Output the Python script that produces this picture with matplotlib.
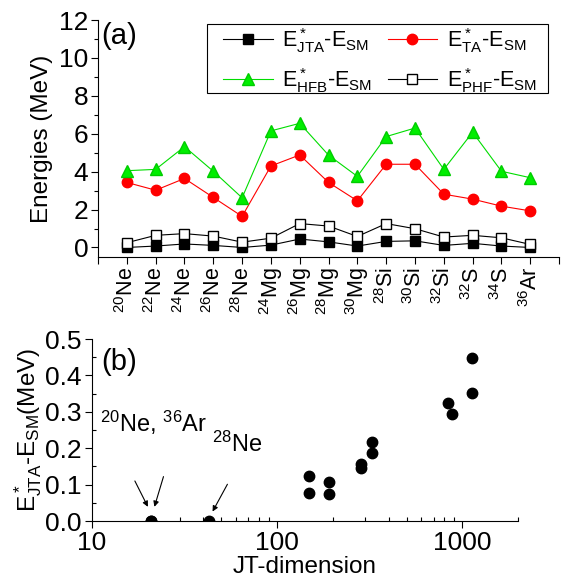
import matplotlib
matplotlib.use('Agg')
from matplotlib import pyplot as plt
from matplotlib.patches import Rectangle
import numpy as np

plt.rcParams['font.family'] = ['Liberation Sans', 'DejaVu Sans']
plt.rcParams['mathtext.fontset'] = 'custom'
plt.rcParams['mathtext.rm'] = 'Liberation Sans'
plt.rcParams['mathtext.it'] = 'Liberation Sans:italic'
plt.rcParams['mathtext.bf'] = 'Liberation Sans:bold'

# panel (a) data
nuclei = [r'$^{20}$Ne', r'$^{22}$Ne', r'$^{24}$Ne', r'$^{26}$Ne', r'$^{28}$Ne',
          r'$^{24}$Mg', r'$^{26}$Mg', r'$^{28}$Mg', r'$^{30}$Mg',
          r'$^{28}$Si', r'$^{30}$Si', r'$^{32}$Si', r'$^{32}$S', r'$^{34}$S',
          r'$^{36}$Ar']
e_jta = [0.0, 0.075, 0.185, 0.108, 0.0, 0.123, 0.445, 0.295, 0.075,
         0.32, 0.35, 0.108, 0.218, 0.075, 0.0]
e_ta = [3.43, 3.02, 3.64, 2.64, 1.64, 4.30, 4.88, 3.43, 2.46,
        4.39, 4.39, 2.81, 2.55, 2.18, 1.93]
e_hfb = [4.05, 4.12, 5.32, 4.02, 2.62, 6.15, 6.55, 4.87, 3.75,
         5.85, 6.3, 4.12, 6.08, 4.02, 3.68]
e_phf = [0.25, 0.64, 0.73, 0.60, 0.28, 0.49, 1.26, 1.13, 0.58,
         1.26, 0.99, 0.55, 0.64, 0.51, 0.16]

# panel (b) data
jt_dim = [20.9, 20.9, 42.7, 148, 148, 190, 190, 285, 285,
          326, 326, 840, 875, 1122, 1122]
jt_err = [0.0, 0.0, 0.0, 0.123, 0.076, 0.106, 0.074, 0.157, 0.147,
          0.218, 0.186, 0.323, 0.295, 0.447, 0.353]

fs = 19
fig = plt.figure(figsize=(5.65, 5.80), dpi=100)

# ---- panel (a)
ax1 = fig.add_axes([0.1735, 0.557, 0.816, 0.4085])
xs = np.arange(1, len(nuclei) + 1)
l_jta, = ax1.plot(xs, e_jta, '-', color='black', lw=0.8, marker='s', ms=6.7,
                  mfc='black', mec='black', zorder=3)
l_ta, = ax1.plot(xs, e_ta, '-', color='red', lw=0.8, marker='o', ms=7.5,
                 mfc='red', mec='red', zorder=3)
l_hfb, = ax1.plot(xs, e_hfb, '-', color='#00dd00', lw=0.8, marker='^', ms=8.5,
                  mfc='#00ee00', mec='#00cc00', zorder=3)
l_phf, = ax1.plot(xs, e_phf, '-', color='black', lw=0.8, marker='s', ms=6.7,
                  mfc='white', mec='black', zorder=4)
ax1.set_xlim(0, 16)
ax1.set_ylim(-0.5, 12)
ax1.set_xticks(np.arange(0, 17))
ax1.set_xticklabels([''] + nuclei + [''], rotation=90)
ax1.set_yticks(np.arange(0, 13, 2))
ax1.set_yticks(np.arange(1, 12, 2), minor=True)
ax1.tick_params(axis='both', which='major', labelsize=fs, direction='out', length=5, width=0.8, pad=2)
ax1.tick_params(axis='x', labelsize=15.5)
ax1.tick_params(axis='y', which='minor', direction='out', length=3, width=0.8)
ax1.spines['top'].set_visible(False)
ax1.spines['right'].set_visible(False)
ax1.set_ylabel('Energies (MeV)', fontsize=17.5, labelpad=4)
ax1.text(0.008, 0.99, '(a)', transform=ax1.transAxes, fontsize=21, va='top', ha='left')

# legend: box drawn as a plain rectangle, entries centred inside
ax1.add_patch(Rectangle((0.2364, 0.692), 0.7396, 0.291, transform=ax1.transAxes,
                        fill=False, edgecolor='black', lw=0.8, zorder=5))
handles = [l_jta, l_hfb, l_ta, l_phf]
labels = [r'E$^*_{\mathrm{JTA}}$-E$_{\mathrm{SM}}$', r'E$^*_{\mathrm{HFB}}$-E$_{\mathrm{SM}}$',
          r'E$^*_{\mathrm{TA}}$-E$_{\mathrm{SM}}$', r'E$^*_{\mathrm{PHF}}$-E$_{\mathrm{SM}}$']
ax1.legend(handles, labels, loc='center', bbox_to_anchor=(0.612, 0.83), ncol=2,
           fontsize=15.5, frameon=False, handlelength=2.3, columnspacing=0.7,
           handletextpad=0.45, labelspacing=0.5, borderpad=0.1)

# ---- panel (b)
ax2 = fig.add_axes([0.1623, 0.1017, 0.7547, 0.3138])
ax2.plot(jt_dim, jt_err, 'o', color='black', ms=7.5, zorder=3)
ax2.set_xscale('log')
ax2.set_xlim(10, 2000)
ax2.set_ylim(0, 0.5)
ax2.set_yticks(np.arange(0, 0.51, 0.1))
ax2.set_yticklabels(['0.0', '0.1', '0.2', '0.3', '0.4', '0.5'])
ax2.set_yticks(np.arange(0.05, 0.5, 0.1), minor=True)
ax2.set_xticks([10, 100, 1000])
ax2.set_xticklabels(['10', '100', '1000'])
ax2.tick_params(axis='both', which='major', labelsize=fs, direction='out', length=5, width=0.8, pad=2)
ax2.tick_params(axis='both', which='minor', direction='in', length=3, width=0.8)
ax2.spines['top'].set_visible(False)
ax2.spines['right'].set_visible(False)
ax2.set_xlabel('JT-dimension', fontsize=17.5, labelpad=1)
ax2.set_ylabel(r'E$^*_{\mathrm{JTA}}$-E$_{\mathrm{SM}}$(MeV)', fontsize=17.5, labelpad=1)
ax2.text(0.022, 0.95, '(b)', transform=ax2.transAxes, fontsize=21, va='top', ha='left')
ax2.text(11.1, 0.245, r'$^{20}$Ne, $^{36}$Ar', fontsize=17)
ax2.text(44.5, 0.19, r'$^{28}$Ne', fontsize=17)
arrow = dict(arrowstyle='-|>', color='black', lw=0.8, mutation_scale=8, shrinkA=0, shrinkB=0)
ax2.annotate('', xy=(20.1, 0.039), xytext=(17.1, 0.11), arrowprops=arrow)
ax2.annotate('', xy=(21.8, 0.039), xytext=(24.4, 0.122), arrowprops=arrow)
ax2.annotate('', xy=(44.9, 0.026), xytext=(54, 0.101), arrowprops=arrow)

fig.savefig('out.png', dpi=100)
